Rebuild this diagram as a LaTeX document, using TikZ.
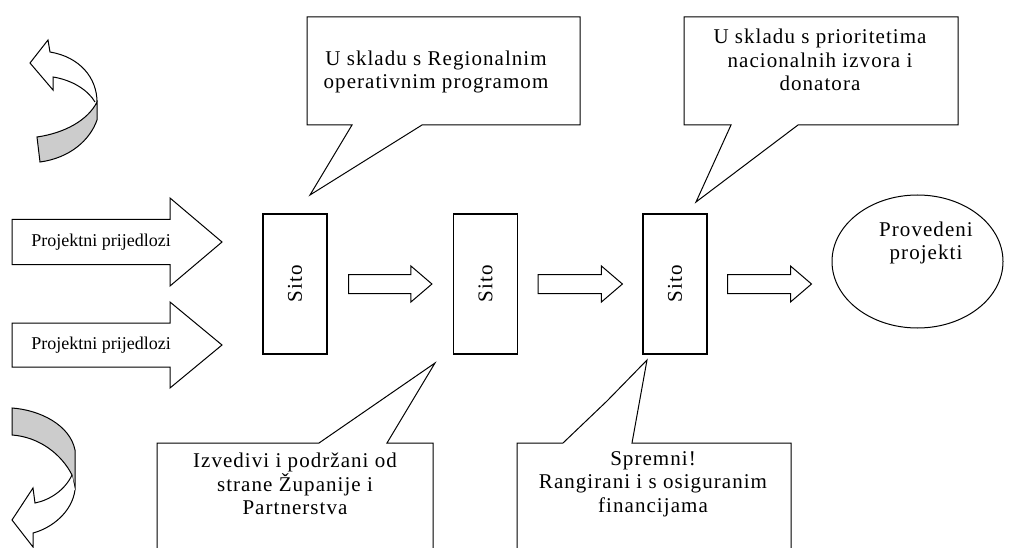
\documentclass[tikz,border=0pt]{standalone}
\usepackage{fontspec}
\usepackage{graphicx}
\setmainfont{Liberation Serif}
\newfontfamily\spaced[LetterSpace=5]{Liberation Serif}
\usetikzlibrary{calc,shapes.geometric}

% fat block arrow from #1 to #2 (shaft half, head half, head length)
\newcommand{\fatarrow}[5]{%
  \draw[blockline] let \p1=(#1), \p2=(#2) in
    (\x1,\y1-#3) -- (\x2-#5,\y1-#3) -- (\x2-#5,\y1-#4) -- (\x2,\y1)
    -- (\x2-#5,\y1+#4) -- (\x2-#5,\y1+#3) -- (\x1,\y1+#3) -- cycle;}

\tikzset{
  blockline/.style={draw=black, line width=1pt, fill=white},
  sito/.style={draw, line width=1.2pt, minimum width=64pt, minimum height=140pt, inner sep=0pt,
    font=\spaced\fontsize{21}{24}\selectfont},
  calltext/.style={align=center, inner sep=0pt, font=\spaced\fontsize{21}{23.5}\selectfont},
  calloutline/.style={draw=black, line width=1pt, fill=white},
  inlabel/.style={inner sep=0pt, font=\fontsize{18}{20}\selectfont},
  band/.style={draw=black, line width=1pt, fill=gray!40},
}

\begin{document}
\begin{tikzpicture}[x=1pt, y=-1pt]
\useasboundingbox (0,0) rectangle (1009,548);
\clip (0,0) rectangle (1009,548);

% curved arrows on the left
\draw[band] (37,137) .. controls (65,133) and (88,120) .. (97,102) -- (97,120)
  .. controls (90,140) and (70,158) .. (40,162) -- cycle;
\draw[blockline] (97,102) .. controls (97,78) and (80,57) .. (50,52) -- (48,40) -- (30,63)
  -- (53,90) -- (53,77) .. controls (72,80) and (88,90) .. (95,102);

\draw[band] (12,408) .. controls (40,410) and (70,425) .. (75,450) -- (75,490)
  -- (72,475) .. controls (62,455) and (40,437) .. (12,435) -- cycle;
\draw[blockline] (72,475) .. controls (65,490) and (50,500) .. (35,503) -- (33,488) -- (12,520)
  -- (33,547) -- (33,533) .. controls (52,528) and (72,512) .. (75,490);

% sieves
\node[sito] (s1) at (295,284) {\rotatebox{90}{Sito}};
\node[sito] (s2) at (485.5,284) {\rotatebox{90}{Sito}};
\node[sito] (s3) at (675,284) {\rotatebox{90}{Sito}};
\node[ellipse, draw, line width=1pt, minimum width=171pt, minimum height=133pt] (done) at (917.5,261.5) {};
\node[calltext] (donetext) at (926,243) {Provedeni\\projekti};

% incoming proposals
\coordinate (src1) at (12,242);
\coordinate (src1tip) at (222,242);
\coordinate (src2) at (12,345);
\coordinate (src2tip) at (222,345);
\fatarrow{src1}{src1tip}{22.5}{44}{52}
\fatarrow{src2}{src2tip}{22}{43}{52}
\node[inlabel] (prop1) at (101,242) {Projektni prijedlozi};
\node[inlabel] (prop2) at (101,345) {Projektni prijedlozi};

% flow between sieves
\fatarrow{[xshift=21pt]s1.east}{[xshift=-21pt]s2.west}{9.5}{18}{21}
\fatarrow{[xshift=20pt]s2.east}{[xshift=-20pt]s3.west}{9.5}{18}{21}
\fatarrow{[xshift=20pt]s3.east}{[xshift=-20pt]done.west}{9.5}{18}{21}

% callouts
\draw[calloutline] (307,17) -- (580,17) -- (580,125) -- (422,125) -- (310,195) -- (352,125) -- (307,125) -- cycle;
\node[calltext] (rop) at (436,72) {U skladu s Regionalnim\\operativnim programom};

\draw[calloutline] (684,17) -- (958,17) -- (958,125) -- (798,125) -- (696,202) -- (731,125) -- (684,125) -- cycle;
\node[calltext] (nac) at (820,60) {U skladu s prioritetima\\nacionalnih izvora i\\donatora};

\draw[calloutline] (157,443) -- (319,443) -- (435,363) -- (387,443) -- (433,443) -- (433,560) -- (157,560) -- cycle;
\node[calltext] (zup) at (295,484) {Izvedivi i podržani od\\strane Županije i\\Partnerstva};

\draw[calloutline] (517,443) -- (563,443) -- (607,401) -- (647,360) -- (632,443) -- (791,443) -- (791,560) -- (517,560) -- cycle;
\node[calltext] (spr) at (653,484) {Spremni!\\Rangirani i s osiguranim\\financijama};
\end{tikzpicture}
\end{document}
